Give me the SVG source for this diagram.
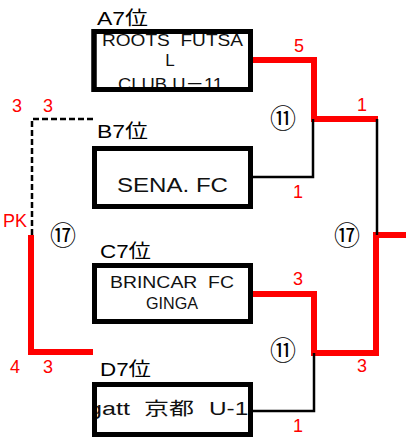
<svg xmlns="http://www.w3.org/2000/svg" width="406" height="438" viewBox="0 0 406 438">
<style>
  text { font-family: "Liberation Sans", "Noto Sans CJK JP", sans-serif; }
  .box { fill: #fff; stroke: #000; stroke-width: 5; }
  .lbl { font-size: 19px; fill: #000; }
  .nm { fill: #111; }
  .sc { font-size: 18px; fill: #f00; text-anchor: middle; }
  .rd { font-size: 26px; fill: #000; text-anchor: middle; font-family: "Noto Sans CJK JP", "DejaVu Sans", sans-serif; }
  .win { fill: none; stroke: #f00; stroke-width: 6; }
  .los { fill: none; stroke: #000; stroke-width: 2.5; }
  .dash { fill: none; stroke: #000; stroke-width: 2.5; stroke-dasharray: 6 3; }
</style>
<defs>
  <clipPath id="clipA"><rect x="96" y="34" width="152" height="53"/></clipPath>
  <clipPath id="clipD"><rect x="96" y="387" width="152" height="45"/></clipPath>
</defs>
<rect width="406" height="438" fill="#fff"/>

<g id="connectors">
  <path class="win" d="M250,60 H314 V119 H378"/>
  <path class="win" d="M406,235 H376 V353 H314 V294 H250"/>
  <path class="win" d="M31,235 V352 H93"/>
  <path class="los" d="M250,177 H313 V119"/>
  <path class="los" d="M377,119 V235"/>
  <path class="los" d="M250,411 H314 V353"/>
  <path class="dash" d="M93,119 H32 V235"/>
</g>

<g id="nodeA">
  <text class="lbl" x="97" y="25" textLength="51" lengthAdjust="spacingAndGlyphs">A7位</text>
  <rect class="box" x="94" y="31.5" width="156.5" height="58"/>
  <g clip-path="url(#clipA)" class="nm">
    <text x="102" y="46" font-size="17" textLength="141" lengthAdjust="spacingAndGlyphs">ROOTS&#160;&#160;FUTSA</text>
    <text x="170" y="66" font-size="17" text-anchor="middle">L</text>
    <text x="118" y="90" font-size="17" textLength="105" lengthAdjust="spacingAndGlyphs">CLUB U－11</text>
  </g>
  <rect x="94" y="31.5" width="156.5" height="58" fill="none" stroke="#000" stroke-width="5"/>
</g>

<g id="nodeB">
  <text class="lbl" x="97" y="138" textLength="51" lengthAdjust="spacingAndGlyphs">B7位</text>
  <rect class="box" x="94.5" y="148.5" width="156" height="58"/>
  <text class="nm" x="117" y="192" font-size="21" textLength="111" lengthAdjust="spacingAndGlyphs">SENA. FC</text>
</g>

<g id="nodeC">
  <text class="lbl" x="100" y="258" textLength="51" lengthAdjust="spacingAndGlyphs">C7位</text>
  <rect class="box" x="94.5" y="265.5" width="156" height="56"/>
  <text class="nm" x="110" y="288" font-size="17" textLength="124" lengthAdjust="spacingAndGlyphs">BRINCAR&#160;&#160;FC</text>
  <text class="nm" x="146" y="309" font-size="17" textLength="52" lengthAdjust="spacingAndGlyphs">GINGA</text>
</g>

<g id="nodeD">
  <text class="lbl" x="100" y="376" textLength="51" lengthAdjust="spacingAndGlyphs">D7位</text>
  <rect class="box" x="94.5" y="384.5" width="156" height="50"/>
  <g clip-path="url(#clipD)" class="nm" font-size="18">
    <text x="88" y="415"><tspan textLength="42" lengthAdjust="spacingAndGlyphs">gatt</tspan><tspan x="144" textLength="50" lengthAdjust="spacingAndGlyphs">京都</tspan><tspan x="209" textLength="51" lengthAdjust="spacingAndGlyphs">U-11</tspan></text>
  </g>
  <rect x="94.5" y="384.5" width="156" height="50" fill="none" stroke="#000" stroke-width="5"/>
</g>

<g id="labels">
  <text class="sc" x="299" y="52">5</text>
  <text class="sc" x="362" y="111">1</text>
  <text class="sc" x="298" y="198">1</text>
  <text class="sc" x="298" y="285">3</text>
  <text class="sc" x="362" y="372">3</text>
  <text class="sc" x="298" y="432">1</text>
  <text class="sc" x="17" y="112">3</text>
  <text class="sc" x="48" y="112">3</text>
  <text class="sc" x="15" y="373">4</text>
  <text class="sc" x="48" y="373">3</text>
  <text x="3" y="227" font-size="18" fill="#f00">PK</text>
  <text class="rd" x="283" y="128">⑪</text>
  <text class="rd" x="283" y="360">⑪</text>
  <text class="rd" x="347" y="245">⑰</text>
  <text class="rd" x="63" y="245">⑰</text>
</g>
</svg>
